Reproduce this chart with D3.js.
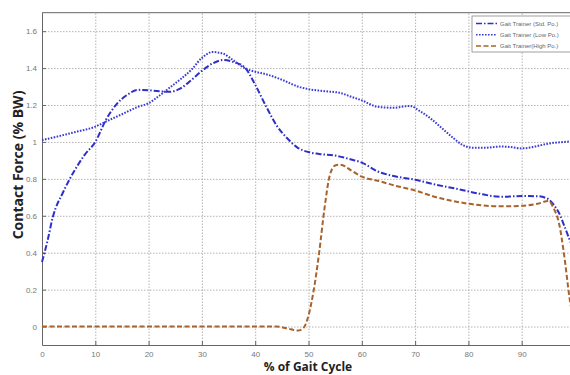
<!DOCTYPE html>
<html>
<head>
<meta charset="utf-8">
<script src="https://cdn.jsdelivr.net/npm/d3@7"></script>
<style>
  body { margin: 0; background: #fff; }
  svg { display: block; }
</style>
</head>
<body>
<div id="chart"></div>
<script>
// % of gait cycle / contact force
const pctStd = [0, 1, 2, 4, 6, 8, 10, 12, 14, 16, 18, 20, 22, 24, 26, 28, 30, 32, 34, 36, 38, 40, 42, 44, 46, 48, 50, 52, 55, 58, 60, 63, 66, 70, 74, 78, 82, 86, 90, 93, 95, 96, 97, 98, 99, 100];
const forceStd = [0.35, 0.46, 0.59, 0.73, 0.84, 0.93, 1.0, 1.12, 1.205, 1.255, 1.282, 1.28, 1.274, 1.272, 1.29, 1.335, 1.385, 1.425, 1.444, 1.432, 1.405, 1.31, 1.195, 1.09, 1.02, 0.968, 0.945, 0.935, 0.926, 0.905, 0.888, 0.84, 0.815, 0.795, 0.768, 0.745, 0.72, 0.703, 0.707, 0.706, 0.69, 0.66, 0.615, 0.545, 0.47, 0.40];

const pctLow = [0, 3, 6, 10, 12, 15, 18, 20, 22, 24, 26, 28, 30, 32, 34, 36, 38, 40, 42, 45, 48, 50, 53, 56, 58, 60, 63, 66, 69, 71, 73, 75, 77, 79, 81, 83, 86, 88, 90, 92, 94, 96, 98, 100];
const forceLow = [1.01, 1.03, 1.052, 1.083, 1.11, 1.15, 1.19, 1.21, 1.25, 1.295, 1.34, 1.39, 1.455, 1.487, 1.478, 1.44, 1.40, 1.38, 1.367, 1.337, 1.30, 1.286, 1.275, 1.265, 1.245, 1.225, 1.19, 1.185, 1.195, 1.165, 1.125, 1.075, 1.025, 0.982, 0.968, 0.968, 0.975, 0.972, 0.965, 0.972, 0.985, 0.995, 1.0, 1.005];

const pctHigh = [0, 10, 20, 30, 40, 44, 46, 48, 49, 50, 51, 52, 53, 54, 55, 56, 58, 60, 63, 66, 70, 74, 78, 82, 86, 90, 93, 95, 96, 97, 98, 99, 100];
const forceHigh = [0, 0, 0, 0, 0, 0, -0.01, -0.022, -0.01, 0.06, 0.2, 0.4, 0.64, 0.82, 0.872, 0.877, 0.846, 0.812, 0.79, 0.765, 0.737, 0.70, 0.675, 0.658, 0.651, 0.654, 0.665, 0.68, 0.64, 0.56, 0.38, 0.15, 0.0];

const xTicks = [0, 10, 20, 30, 40, 50, 60, 70, 80, 90];
const yTicks = [0, 0.2, 0.4, 0.6, 0.8, 1, 1.2, 1.4, 1.6];
const seriesNames = ["Gait Trainer (Std. Po.)", "Gait Trainer (Low Po.)", "Gait Trainer(High Po.)"];

const w = 570, h = 375;
const plotLeft = 42, plotTop = 12.7, plotBottom = 345, plotRight = 575;

const svg = d3.select("#chart").append("svg")
  .attr("width", w)
  .attr("height", h);

const x = d3.scaleLinear().domain([0, 100]).range([plotLeft, plotRight]);
const y = d3.scaleLinear().domain([-0.1, 1.7]).range([plotBottom, plotTop]);

// grid
svg.append("g")
  .attr("transform", `translate(0, ${plotBottom})`)
  .call(d3.axisBottom(x).tickValues(xTicks.slice(1)).tickSize(-(plotBottom - plotTop)).tickFormat(""))
  .call(g => g.select(".domain").remove())
  .call(g => g.selectAll("line").attr("stroke", "#b4b4b4").attr("stroke-dasharray", "1.5,1.5"));

svg.append("g")
  .attr("transform", `translate(${plotLeft}, 0)`)
  .call(d3.axisLeft(y).tickValues(yTicks).tickSize(-(plotRight - plotLeft)).tickFormat(""))
  .call(g => g.select(".domain").remove())
  .call(g => g.selectAll("line").attr("stroke", "#b4b4b4").attr("stroke-dasharray", "1.5,1.5"));

// axes
const xAxis = svg.append("g")
  .attr("transform", `translate(0, ${plotBottom})`)
  .call(d3.axisBottom(x).tickValues(xTicks).tickSizeInner(-4).tickSizeOuter(0).tickPadding(6).tickFormat(d3.format("d")));
const yAxis = svg.append("g")
  .attr("transform", `translate(${plotLeft}, 0)`)
  .call(d3.axisLeft(y).tickValues(yTicks).tickSizeInner(-4).tickSizeOuter(0).tickPadding(5).tickFormat(d => d));

[xAxis, yAxis].forEach(a => {
  a.select(".domain").attr("stroke", "#666");
  a.selectAll(".tick line").attr("stroke", "#666");
  a.selectAll("text")
    .attr("fill", "#777")
    .style("font-family", "'Liberation Sans', Arial, sans-serif")
    .style("font-size", "8px");
});

// top border
svg.append("line")
  .attr("x1", plotLeft).attr("x2", plotRight)
  .attr("y1", plotTop).attr("y2", plotTop)
  .attr("stroke", "#666");

const line = d3.line()
  .x(d => x(d[0]))
  .y(d => y(d[1]))
  .curve(d3.curveMonotoneX);

const series = [
  { pct: pctStd, val: forceStd, color: "#2f2fc8", dash: "6,2,1.5,2" },
  { pct: pctLow, val: forceLow, color: "#3a3ad6", dash: "1.6,1.4" },
  { pct: pctHigh, val: forceHigh, color: "#a9622c", dash: "5,2.5" }
];

series.forEach(s => {
  svg.append("path")
    .attr("d", line(d3.zip(s.pct, s.val)))
    .attr("fill", "none")
    .attr("stroke", s.color)
    .attr("stroke-width", 2)
    .attr("stroke-dasharray", s.dash);
});

// legend
const lg = svg.append("g");
lg.append("rect")
  .attr("x", 472).attr("y", 16)
  .attr("width", 104).attr("height", 36)
  .attr("fill", "#fff")
  .attr("stroke", "#888")
  .attr("stroke-width", 0.8);

seriesNames.forEach((name, i) => {
  const ly = 23.5 + i * 11.2;
  lg.append("line")
    .attr("x1", 476).attr("x2", 497)
    .attr("y1", ly).attr("y2", ly)
    .attr("stroke", series[i].color)
    .attr("stroke-width", 1.5)
    .attr("stroke-dasharray", series[i].dash);
  lg.append("text")
    .attr("x", 500).attr("y", ly + 2)
    .attr("fill", "#666")
    .style("font-family", "'Liberation Sans', Arial, sans-serif")
    .style("font-size", "6px")
    .text(name);
});

// axis titles
svg.append("text")
  .attr("x", 308).attr("y", 371)
  .attr("text-anchor", "middle")
  .attr("fill", "#222")
  .style("font-family", "'Open Sans', sans-serif")
  .style("font-weight", "bold")
  .style("font-size", "12px")
  .text("% of Gait Cycle");

svg.append("text")
  .attr("transform", "translate(22.5, 165) rotate(-90)")
  .attr("text-anchor", "middle")
  .attr("fill", "#222")
  .style("font-family", "'Open Sans', sans-serif")
  .style("font-weight", "bold")
  .style("font-size", "14px")
  .text("Contact Force (% BW)");
</script>
</body>
</html>
